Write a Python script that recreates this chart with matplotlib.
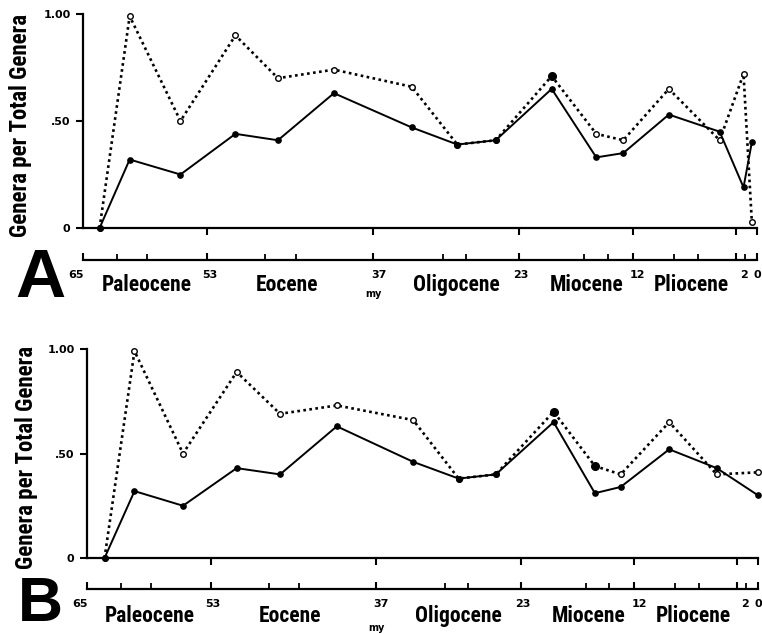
import numpy as np
import matplotlib
matplotlib.use("Agg")
import matplotlib.pyplot as plt
from matplotlib import transforms

# epochs (millions of years before present)
epochs = ['Paleocene', 'Eocene', 'Oligocene', 'Miocene', 'Pliocene']
boundaries = [65, 53, 37, 23, 12, 2, 0]
boundary_labels = ['65', '53', '37', '23', '12', '2', '0']
sub_divisions = [61.7, 58.8, 47.4, 44.5, 30.3, 28.1, 16.7, 14.4, 8.0, 5.7, 1.2]
y_tick_labels = ['0', '.50', '1.00']

# panel A
ages_a = [63.4, 60.5, 55.6, 50.3, 46.2, 40.8, 33.3, 28.9, 25.2, 19.8, 15.5, 12.9, 8.5, 3.6, 1.3, 0.5]
solid_a = [0.0, 0.32, 0.25, 0.44, 0.41, 0.63, 0.47, 0.39, 0.41, 0.65, 0.33, 0.35, 0.53, 0.45, 0.19, 0.40]
dotted_a = [0.0, 0.99, 0.50, 0.90, 0.70, 0.74, 0.66, 0.39, 0.41, 0.71, 0.44, 0.41, 0.65, 0.41, 0.72, 0.03]
filled_a = [False] * 9 + [True] + [False] * 6

# panel B
ages_b = [63.3, 60.4, 55.7, 50.5, 46.3, 40.8, 33.4, 29.0, 25.4, 19.8, 15.8, 13.3, 8.6, 4.0, 0.0]
solid_b = [0.0, 0.32, 0.25, 0.43, 0.40, 0.63, 0.46, 0.38, 0.40, 0.65, 0.31, 0.34, 0.52, 0.43, 0.30]
dotted_b = [0.0, 0.99, 0.50, 0.89, 0.69, 0.73, 0.66, 0.38, 0.40, 0.70, 0.44, 0.40, 0.65, 0.40, 0.41]
filled_b = [False] * 9 + [True, True] + [False] * 4

W, H = 762, 634
fig = plt.figure(figsize=(W / 100, H / 100), dpi=100)
fig.patch.set_facecolor('white')

NARROW = ['Roboto Condensed', 'Oswald', 'Archivo Narrow', 'PT Sans Narrow',
          'Liberation Sans Narrow', 'DejaVu Sans']

# where the labels sit along the timeline (ages)
epoch_x = [58.9, 45.3, 29.0, 16.4, 6.3]
bound_x = [65.7, 52.8, 36.5, 22.8, 11.5, 1.3, 0.0]


def box(x0, y0, x1, y1):
    return [x0 / W, 1 - y1 / H, (x1 - x0) / W, (y1 - y0) / H]


def fy(y):
    return 1 - y / H


def panel(x0, y0, x1, y1, line_y, ages, solid, dotted, filled, letter,
          ylab_x, num_base, name_base, my_base, letter_base, letter_size):
    ax = fig.add_axes(box(x0, y0, x1, y1))
    ax.set_xlim(65, 0)
    ax.set_ylim(0, 1)
    ax.patch.set_alpha(0)
    for s in ['top', 'right']:
        ax.spines[s].set_visible(False)
    for s in ['left', 'bottom']:
        ax.spines[s].set_linewidth(1.6)
    ax.set_yticks([0, 0.5, 1.0])
    ax.set_yticklabels(y_tick_labels, fontsize=8, fontweight='bold')
    ax.set_xticks(boundaries[1:])
    ax.set_xticklabels([])
    ax.tick_params(direction='out', length=5, width=1.5, pad=4)

    ax.plot(ages, dotted, color='k', lw=1.9, ls=(0, (1, 1.3)),
            marker='o', ms=4, mfc='white', mec='k', mew=1, clip_on=False, zorder=2)
    ax.plot(ages, solid, '-', color='k', lw=1.4, marker='o', ms=3.8,
            clip_on=False, zorder=3)
    f = np.array(filled)
    ax.plot(np.array(ages)[f], np.array(dotted)[f], 'o', color='k', ms=5.5,
            clip_on=False, zorder=4)

    # timeline below the plot
    axt = fig.add_axes(box(x0, line_y - 10, x1, line_y))
    axt.set_xlim(65, 0)
    axt.set_ylim(0, 1)
    axt.patch.set_alpha(0)
    for s in ['top', 'right', 'left']:
        axt.spines[s].set_visible(False)
    axt.spines['bottom'].set_linewidth(1.6)
    axt.set_yticks([])
    axt.set_xticks(boundaries)
    axt.set_xticks(sub_divisions, minor=True)
    axt.set_xticklabels([])
    axt.tick_params(axis='x', which='major', direction='in', length=5, width=1.5)
    axt.tick_params(axis='x', which='minor', direction='in', length=4, width=1.3)

    tr = transforms.blended_transform_factory(axt.transData, fig.transFigure)
    for x, lab in zip(bound_x, boundary_labels):
        axt.text(x, fy(num_base), lab, transform=tr, ha='center', va='baseline',
                 fontsize=8, fontweight='bold', clip_on=False)
    for x, name in zip(epoch_x, epochs):
        axt.text(x, fy(name_base), name, transform=tr, ha='center', va='baseline',
                 fontsize=15.5, fontweight='bold', family=NARROW, clip_on=False)
    axt.text(37, fy(my_base), 'my', transform=tr, ha='center', va='baseline',
             fontsize=7, fontweight='bold', clip_on=False)

    fig.text(ylab_x / W, fy((y0 + y1) / 2 + 4), 'Genera per Total Genera',
             rotation=90, ha='center', va='center', fontsize=16.5,
             fontweight='bold', family=NARROW)
    fig.text(40 / W, fy(letter_base), letter, ha='center', va='baseline',
             fontsize=letter_size, fontweight='bold', family='Liberation Sans')


panel(83, 14, 757, 228, 260, ages_a, solid_a, dotted_a, filled_a, 'A',
      21, 278, 291, 297, 297, 50)
panel(87, 349, 758, 558, 589, ages_b, solid_b, dotted_b, filled_b, 'B',
      27, 607, 622, 631, 621, 45)

fig.savefig('out.png', dpi=100)
